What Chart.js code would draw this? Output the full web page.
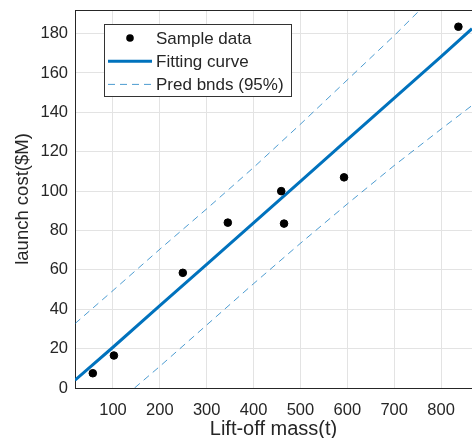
<!DOCTYPE html>
<html>
<head>
<meta charset="utf-8">
<script src="https://cdn.jsdelivr.net/npm/chart.js@4.4.1/dist/chart.umd.min.js"></script>
<style>
  html, body { margin: 0; padding: 0; background: #fff; overflow: hidden; }
  #wrap { width: 472px; height: 438px; }
</style>
</head>
<body>
<div id="wrap"><canvas id="myChart" width="472" height="438"></canvas></div>
<script>
// sample data (lift-off mass t, launch cost $M)
var sampleX = [57, 102, 249, 345, 459, 465, 593, 837];
var sampleY = [7.5, 16.5, 58.5, 84, 100, 83.5, 107, 183.5];

// fitting curve
var fitX = [19, 100, 200, 300, 400, 500, 600, 700, 800, 866];
var fitY = [4, 20.7, 41.8, 62.8, 83.9, 105, 126.1, 147.2, 168.3, 182.5];

// 95% prediction bounds
var upperX = [19, 100, 200, 300, 400, 500, 600, 700, 755];
var upperY = [32.7, 49.5, 70.5, 91, 112, 134, 156.5, 179, 192];
var lowerX = [146, 200, 300, 400, 500, 600, 700, 800, 866];
var lowerY = [0, 11, 32, 53, 73.5, 93.5, 113, 131.5, 143.5];

var xTicks = [100, 200, 300, 400, 500, 600, 700, 800];
var yTicks = [0, 20, 40, 60, 80, 100, 120, 140, 160, 180];

var FONT = "'Liberation Sans', Arial, Helvetica, sans-serif";
var TXT = '#262626';
var BLUE = '#0072BD';

function pts(xs, ys) {
    return xs.map(function(x, i) { return {x: x, y: ys[i]}; });
}

// draws top box line and the matlab style legend inside the axes
var boxLegend = {
    id: 'boxLegend',
    afterDraw: function(chart) {
        var ctx = chart.ctx, a = chart.chartArea;
        ctx.save();
        ctx.strokeStyle = TXT;
        ctx.lineWidth = 1;
        ctx.beginPath();
        ctx.moveTo(a.left, a.top + 0.5);
        ctx.lineTo(a.right, a.top + 0.5);
        ctx.stroke();

        var bx = a.left + 29, by = a.top + 14, bw = 187, bh = 72;
        ctx.fillStyle = '#fff';
        ctx.fillRect(bx, by, bw, bh);
        ctx.strokeStyle = '#333';
        ctx.strokeRect(bx + 0.5, by + 0.5, bw, bh);

        var items = chart.data.datasets.filter(function(d) { return d.legend; });
        ctx.font = '17px ' + FONT;
        ctx.textBaseline = 'middle';
        items.forEach(function(d, i) {
            var cy = by + 14 + i * 23.2;
            if (d.showLine) {
                ctx.strokeStyle = d.borderColor;
                ctx.lineWidth = d.borderWidth;
                ctx.setLineDash(d.borderDash || []);
                ctx.beginPath();
                ctx.moveTo(bx + 4, cy);
                ctx.lineTo(bx + 48, cy);
                ctx.stroke();
                ctx.setLineDash([]);
            } else {
                ctx.fillStyle = d.backgroundColor;
                ctx.beginPath();
                ctx.arc(bx + 26, cy, d.pointRadius, 0, Math.PI * 2);
                ctx.fill();
            }
            ctx.fillStyle = TXT;
            ctx.fillText(d.label, bx + 52, cy + 1);
        });
        ctx.restore();
    }
};

new Chart("myChart", {
    type: 'scatter',
    data: {
        datasets: [{
            label: 'Sample data',
            legend: true,
            data: pts(sampleX, sampleY),
            backgroundColor: '#000',
            borderColor: '#000',
            pointRadius: 3.8,
            order: 0
        }, {
            label: 'Fitting curve',
            legend: true,
            data: pts(fitX, fitY),
            showLine: true,
            borderColor: BLUE,
            borderWidth: 3,
            pointRadius: 0,
            order: 1
        }, {
            label: 'Pred bnds (95%)',
            legend: true,
            data: pts(upperX, upperY),
            showLine: true,
            borderColor: 'rgba(0,114,189,0.7)',
            borderWidth: 1,
            borderDash: [7, 5],
            pointRadius: 0,
            order: 2
        }, {
            label: 'Pred bnds (95%)',
            data: pts(lowerX, lowerY),
            showLine: true,
            borderColor: 'rgba(0,114,189,0.7)',
            borderWidth: 1,
            borderDash: [7, 5],
            pointRadius: 0,
            order: 2
        }]
    },
    options: {
        responsive: false,
        animation: false,
        layout: { autoPadding: false, padding: { top: 10, right: 0, left: 0, bottom: 0 } },
        plugins: {
            legend: { display: false },
            tooltip: { enabled: false }
        },
        scales: {
            x: {
                type: 'linear',
                min: 19,
                max: 866,
                afterBuildTicks: function(s) {
                    s.ticks = xTicks.map(function(v) { return {value: v}; });
                },
                afterFit: function(s) {
                    s.height = 50;
                    s.paddingLeft = 0;
                    s.paddingRight = 0;
                },
                grid: { color: '#e3e3e3', drawTicks: false },
                border: { color: TXT, width: 1 },
                ticks: { color: TXT, padding: 13, maxRotation: 0, font: { family: FONT, size: 16.5 } },
                title: {
                    display: true,
                    text: 'Lift-off mass(t)',
                    color: TXT,
                    padding: { top: 0, bottom: -3 },
                    font: { family: FONT, size: 20 }
                }
            },
            y: {
                min: 0,
                max: 192,
                afterBuildTicks: function(s) {
                    s.ticks = yTicks.map(function(v) { return {value: v}; });
                },
                afterFit: function(s) {
                    s.width = 75;
                    s.paddingTop = 0;
                    s.paddingBottom = 0;
                },
                grid: { color: '#e3e3e3', drawTicks: false },
                border: { color: TXT, width: 1 },
                ticks: { color: TXT, padding: 7, font: { family: FONT, size: 16.5 } },
                title: {
                    display: true,
                    text: 'launch cost($M)',
                    color: TXT,
                    padding: { top: 12, bottom: 0 },
                    font: { family: FONT, size: 18.5 }
                }
            }
        }
    },
    plugins: [boxLegend]
});
</script>
</body>
</html>
